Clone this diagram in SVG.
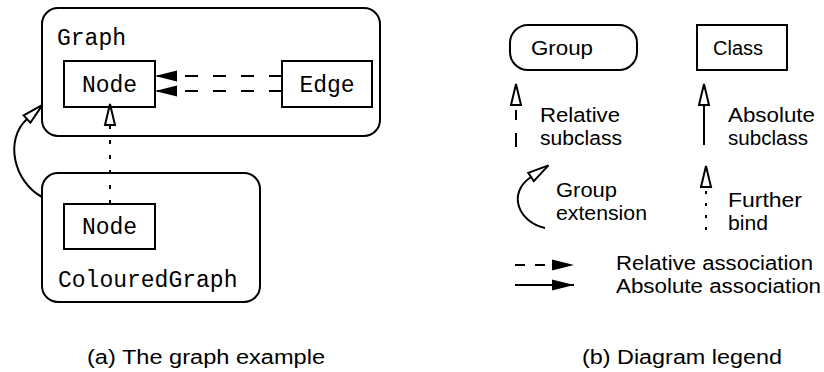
<svg xmlns="http://www.w3.org/2000/svg" width="824" height="372" viewBox="0 0 824 372">
<style>
.box{fill:none;stroke:#000;stroke-width:2}
.cls{fill:#fff;stroke:#000;stroke-width:2}
.tt{font-family:"Liberation Mono","DejaVu Sans Mono",monospace;font-size:23px;fill:#000}
.sf{font-family:"Liberation Sans","DejaVu Sans",sans-serif;font-size:20px;fill:#000}
.ln{fill:none;stroke:#000;stroke-width:2}
</style>
<defs>
<marker id="open" viewBox="-2 -2 25 14" refX="0" refY="5" markerWidth="25" markerHeight="14" markerUnits="userSpaceOnUse" orient="auto" overflow="visible">
<path d="M0,0 L21,5 L0,10 Z" fill="#fff" stroke="#000" stroke-width="2"/>
</marker>
<marker id="fill" viewBox="0 0 22 11" refX="22" refY="5.5" markerWidth="22" markerHeight="11" markerUnits="userSpaceOnUse" orient="auto" overflow="visible">
<path d="M0,0 L22,5.5 L0,11 Z" fill="#000"/>
</marker>
</defs>

<g id="graph">
<rect class="box" x="42" y="8" width="338" height="128" rx="16"/>
<text class="tt" x="57" y="45">Graph</text>
</g>
<g id="graph-node">
<rect class="cls" x="64" y="61" width="91" height="46"/>
<text class="tt" x="109.5" y="91.5" text-anchor="middle">Node</text>
</g>
<g id="graph-edge">
<rect class="cls" x="282" y="61" width="90" height="46"/>
<text class="tt" x="327" y="91.5" text-anchor="middle">Edge</text>
</g>
<g id="colouredgraph">
<rect class="box" x="42" y="173" width="218" height="129" rx="16"/>
<text class="tt" x="58" y="287">ColouredGraph</text>
</g>
<g id="coloured-node">
<rect class="cls" x="64" y="204" width="91" height="45"/>
<text class="tt" x="109.5" y="234" text-anchor="middle">Node</text>
</g>

<g id="connectors">
<path class="ln" d="M282,76 H155" stroke-dasharray="13 15" marker-end="url(#fill)"/>
<path class="ln" d="M282,91 H155" stroke-dasharray="13 15" marker-end="url(#fill)"/>
<path class="ln" d="M110,204 V125" stroke-width="2.5" stroke-dasharray="4 11" marker-end="url(#open)"/>
<path class="ln" d="M42,197 C14,182 4,140 27,119" marker-end="url(#open)"/>
</g>

<g id="legend-group">
<rect class="box" x="510" y="25" width="127" height="45" rx="18"/>
<text class="sf" x="531" y="55" textLength="62" lengthAdjust="spacingAndGlyphs">Group</text>
</g>
<g id="legend-class">
<rect class="box" x="697" y="25" width="90" height="45"/>
<text class="sf" x="713" y="55" textLength="50" lengthAdjust="spacingAndGlyphs">Class</text>
</g>
<g id="legend-relative-subclass">
<path class="ln" d="M516,147 V105" stroke-dasharray="14 13 10 100" marker-end="url(#open)"/>
<text class="sf" x="540" y="122" textLength="80" lengthAdjust="spacingAndGlyphs">Relative</text>
<text class="sf" x="540" y="145" textLength="82" lengthAdjust="spacingAndGlyphs">subclass</text>
</g>
<g id="legend-absolute-subclass">
<path class="ln" d="M704,145 V105" marker-end="url(#open)"/>
<text class="sf" x="728" y="122" textLength="87" lengthAdjust="spacingAndGlyphs">Absolute</text>
<text class="sf" x="728" y="145" textLength="80" lengthAdjust="spacingAndGlyphs">subclass</text>
</g>
<g id="legend-group-extension">
<path class="ln" d="M545,228 C518,222 507,193 531,177" marker-end="url(#open)"/>
<text class="sf" x="556" y="197" textLength="61" lengthAdjust="spacingAndGlyphs">Group</text>
<text class="sf" x="556" y="220" textLength="91" lengthAdjust="spacingAndGlyphs">extension</text>
</g>
<g id="legend-further-bind">
<path class="ln" d="M706,230 V187" stroke-width="2.5" stroke-dasharray="3 9" marker-end="url(#open)"/>
<text class="sf" x="728" y="207" textLength="74" lengthAdjust="spacingAndGlyphs">Further</text>
<text class="sf" x="728" y="230" textLength="40" lengthAdjust="spacingAndGlyphs">bind</text>
</g>
<g id="legend-relative-association">
<path class="ln" d="M515,265 H574" stroke-dasharray="10 10" marker-end="url(#fill)"/>
<text class="sf" x="616" y="270" textLength="197" lengthAdjust="spacingAndGlyphs">Relative association</text>
</g>
<g id="legend-absolute-association">
<path class="ln" d="M515,285 H574" marker-end="url(#fill)"/>
<text class="sf" x="616" y="293" textLength="205" lengthAdjust="spacingAndGlyphs">Absolute association</text>
</g>

<text class="sf" x="87" y="364" textLength="238" lengthAdjust="spacingAndGlyphs">(a) The graph example</text>
<text class="sf" x="582" y="364" textLength="200" lengthAdjust="spacingAndGlyphs">(b) Diagram legend</text>
</svg>
